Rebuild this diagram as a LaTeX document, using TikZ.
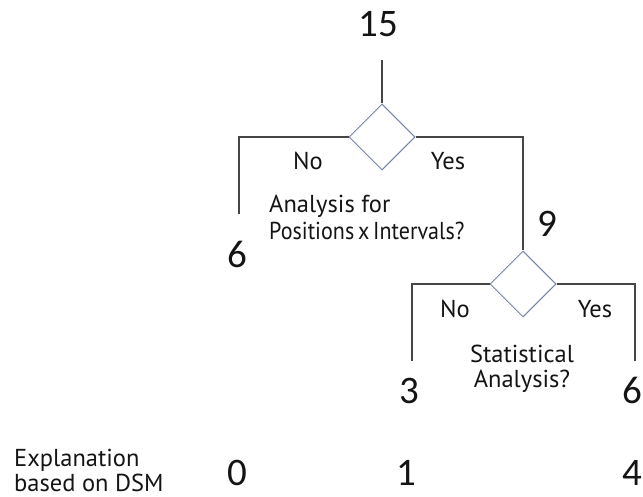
\documentclass[tikz,border=0pt]{standalone}
\usepackage{fontspec}
\usetikzlibrary{shapes.geometric}
\newfontfamily\txtfont{PT Sans}
\newfontfamily\numfont{Carlito}
\definecolor{diamondcol}{RGB}{118,132,170}
\definecolor{linecol}{RGB}{70,70,70}
\definecolor{textcol}{RGB}{20,20,20}
\tikzset{
  line/.style={draw=linecol, line width=1.1pt},
  decision/.style={diamond, draw=diamondcol, line width=1pt, inner sep=0pt,
    minimum width=66pt, minimum height=66pt, aspect=1},
  lbl/.style={font=\txtfont\fontsize{24.5}{28}\selectfont, text=textcol, inner sep=0pt, anchor=base},
  num/.style={font=\numfont\fontsize{39}{40}\selectfont, text=textcol, inner sep=0pt, anchor=base},
}
\begin{document}
\begin{tikzpicture}[x=1pt,y=-1pt]
\useasboundingbox (0,0) rectangle (643,497);
% decisions
\node[decision] (d1) at (382,137) {};
\node[decision] (d2) at (523,284) {};
% numbers
\node[num] (n15) at (378,37) {15};
\node[num] (n6a) at (237,268) {6};
\node[num] (n9) at (547,237) {9};
\node[num] (n3) at (409,403) {3};
\node[num] (n6b) at (632,403) {6};
\node[num] (n0) at (237,485) {0};
\node[num] (n1) at (406,485) {1};
\node[num] (n4) at (632,485) {4};
% connector end points
\coordinate (top) at (382,60);
\coordinate (l1) at (239,137);
\coordinate (l1e) at (239,214);
\coordinate (r1) at (523,137);
\coordinate (l2) at (412,284);
\coordinate (l2e) at (412,361);
\coordinate (r2) at (635,284);
\coordinate (r2e) at (635,361);
% connectors
\draw[line] (top) -- (d1.north);
\draw[line] (d1.west) -- (l1) -- (l1e);
\draw[line] (d1.east) -- (r1) -- (d2.north);
\draw[line] (d2.west) -- (l2) -- (l2e);
\draw[line] (d2.east) -- (r2) -- (r2e);
% labels
\node[lbl] (no1) at (308,170) {No};
\node[lbl] (yes1) at (448,170) {Yes};
\node[lbl, anchor=base west] (q1a) at (269,213) {Analysis for};
\node[lbl, anchor=base west] (q1b) at (269,240) {\scalebox{0.9}[1]{\spaceskip=0.17em Positions x Intervals?}};
\node[lbl] (no2) at (455,317) {No};
\node[lbl] (yes2) at (595,317) {Yes};
\node[lbl] (q2a) at (522,362) {Statistical};
\node[lbl] (q2b) at (522,387) {Analysis?};
\node[lbl, anchor=base west] (ex1) at (14,466) {Explanation};
\node[lbl, anchor=base west] (ex2) at (14,491) {based on DSM};
\end{tikzpicture}
\end{document}
